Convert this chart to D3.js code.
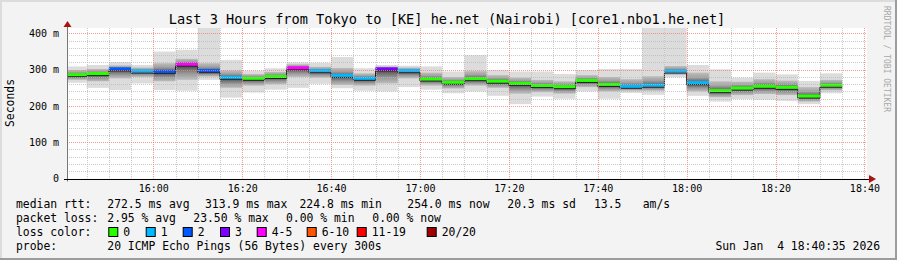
<!DOCTYPE html>
<html>
<head>
<meta charset="utf-8">
<script src="https://cdn.jsdelivr.net/npm/d3@7"></script>
<style>
  body { margin: 0; background: #fff; }
  svg text { font-family: "DejaVu Sans Mono", monospace; fill: #000; }
</style>
</head>
<body>
<div id="chart"></div>
<script>
/* global d3 */

// 5 minute slots (start time of each step)
const slots = ['15:40', '15:45', '15:50', '15:55', '16:00', '16:05', '16:10', '16:15', '16:20', '16:25',
  '16:30', '16:35', '16:40', '16:45', '16:50', '16:55', '17:00', '17:05', '17:10', '17:15',
  '17:20', '17:25', '17:30', '17:35', '17:40', '17:45', '17:50', '17:55', '18:00', '18:05',
  '18:10', '18:15', '18:20', '18:25', '18:30']

// median rtt, ms
const median = [285, 288, 301, 295, 294, 314, 296, 278, 275, 280,
  304, 296, 283, 275, 301, 296, 273, 264, 274, 267,
  261, 255, 252, 269, 258, 253, 256, 295, 263, 241,
  248, 253, 250, 226, 256]

// smoke: fastest / slowest ping and the inner spread
const pingMin = [264, 250, 244, 262, 244, 242, 272, 223, 237, 245,
  250, 261, 249, 242, 240, 252, 245, 235, 240, 228,
  205, 226, 220, 240, 220, 236, 231, 279, 228, 212,
  219, 217, 214, 205, 235]
const pingMax = [309, 313, 321, 313, 350, 355, 430, 327, 297, 304,
  320, 319, 335, 304, 313, 311, 309, 295, 340, 299,
  295, 295, 288, 299, 302, 302, 430, 430, 313, 301,
  278, 292, 287, 269, 290]
const pingLow = [272, 268, 276, 280, 268, 272, 281, 250, 256, 260,
  280, 278, 258, 256, 262, 276, 256, 248, 256, 250,
  234, 238, 234, 252, 240, 242, 242, 286, 240, 224,
  230, 233, 230, 212, 243]
const pingHigh = [299, 302, 312, 306, 318, 330, 318, 298, 288, 294,
  315, 308, 305, 290, 309, 306, 292, 280, 296, 285,
  278, 272, 268, 285, 280, 274, 282, 310, 292, 268,
  267, 274, 270, 252, 272]

// lost pings out of 20
const lost = [0, 0, 2, 1, 2, 5, 2, 1, 0, 0,
  4, 1, 1, 1, 3, 1, 0, 0, 0, 0,
  0, 0, 0, 0, 0, 1, 1, 1, 1, 0,
  0, 0, 0, 0, 0]

const lossLabels = ['0', '1', '2', '3', '4-5', '6-10', '11-19', '20/20']
const lossColors = ['#26ff00', '#00b8ff', '#0059ff', '#7e00ff', '#ff00ff', '#ff5500', '#ff0000', '#a10000']
const yTicks = [0, 100, 200, 300, 400]

// Our canvas
const width = 897,
  height = 260,
  plotLeft = 67,
  plotRight = 867,
  plotTop = 28,
  plotBottom = 178.5

const day = d3.timeParse('%Y-%m-%d %H:%M:%S')
const parseSlot = d3.timeParse('%Y-%m-%d %H:%M')
const start = day('2026-01-04 15:40:35'),
  end = day('2026-01-04 18:40:35')

const x = d3.scaleTime().domain([start, end]).range([plotLeft, plotRight])
const y = d3.scaleLinear().domain([0, 415]).range([plotBottom, plotTop])
const lossColor = d3.scaleThreshold().domain([1, 2, 3, 4, 6, 11, 20]).range(lossColors)

const data = slots.map((s, i) => {
  const t0 = parseSlot('2026-01-04 ' + s)
  return {
    t0: t0,
    t1: d3.timeMinute.offset(t0, 5),
    med: median[i], min: pingMin[i], max: pingMax[i],
    lo: pingLow[i], hi: pingHigh[i], lost: lost[i]
  }
})

let svg = d3.select('#chart')
  .append('svg')
  .attr('width', width)
  .attr('height', height)

// background + 3d frame
svg.append('rect').attr('width', width).attr('height', height).attr('fill', '#f3f3f3')
svg.append('path').attr('d', `M1,${height} V1 H${width}`).attr('stroke', '#dcdcdc').attr('stroke-width', 2).attr('fill', 'none')
svg.append('path').attr('d', `M0,${height - 1} H${width - 1} V0`).attr('stroke', '#9c9c9c').attr('stroke-width', 2).attr('fill', 'none')

svg.append('rect')
  .attr('x', plotLeft).attr('y', plotTop)
  .attr('width', plotRight - plotLeft).attr('height', plotBottom - plotTop)
  .attr('fill', '#fff')

let defs = svg.append('defs')
defs.append('clipPath').attr('id', 'plot')
  .append('rect').attr('x', plotLeft).attr('y', plotTop).attr('width', plotRight - plotLeft).attr('height', plotBottom - plotTop)

let plot = svg.append('g').attr('clip-path', 'url(#plot)')

// smoke
plot.selectAll('rect.outer')
  .data(data)
  .enter()
  .append('rect')
  .attr('class', 'outer')
  .attr('x', d => x(d.t0))
  .attr('width', d => x(d.t1) - x(d.t0))
  .attr('y', d => y(d.max))
  .attr('height', d => y(d.min) - y(d.max))
  .attr('fill', '#dcdcdc')

data.forEach((d, i) => {
  const g = defs.append('linearGradient')
    .attr('id', 'smoke' + i)
    .attr('gradientUnits', 'userSpaceOnUse')
    .attr('x1', 0).attr('x2', 0)
    .attr('y1', y(d.hi)).attr('y2', y(d.lo))
  const mid = (y(d.med) - y(d.hi)) / (y(d.lo) - y(d.hi))
  g.append('stop').attr('offset', 0).attr('stop-color', '#bdbdbd')
  g.append('stop').attr('offset', mid * 0.45).attr('stop-color', '#a2a2a2')
  g.append('stop').attr('offset', mid * 0.85).attr('stop-color', '#6a6a6a')
  g.append('stop').attr('offset', mid).attr('stop-color', '#3a3a3a')
  g.append('stop').attr('offset', mid + (1 - mid) * 0.3).attr('stop-color', '#707070')
  g.append('stop').attr('offset', mid + (1 - mid) * 0.6).attr('stop-color', '#9a9a9a')
  g.append('stop').attr('offset', 1).attr('stop-color', '#bdbdbd')
})

plot.selectAll('rect.inner')
  .data(data)
  .enter()
  .append('rect')
  .attr('class', 'inner')
  .attr('x', d => x(d.t0))
  .attr('width', d => x(d.t1) - x(d.t0))
  .attr('y', d => y(d.hi))
  .attr('height', d => y(d.lo) - y(d.hi))
  .attr('fill', (d, i) => `url(#smoke${i})`)

// grid on top of the smoke
const minorY = d3.range(20, 415, 20).filter(v => v % 100 !== 0)
svg.append('g').selectAll('line')
  .data(minorY)
  .enter()
  .append('line')
  .attr('x1', plotLeft).attr('x2', plotRight)
  .attr('y1', d => Math.round(y(d)) + 0.5).attr('y2', d => Math.round(y(d)) + 0.5)
  .attr('stroke', '#b8b8b8').attr('stroke-opacity', 0.75).attr('stroke-dasharray', '1,1')

const minorX = x.ticks(d3.timeMinute.every(5)).filter(t => t.getMinutes() % 20 !== 0)
svg.append('g').selectAll('line')
  .data(minorX)
  .enter()
  .append('line')
  .attr('x1', d => Math.round(x(d)) + 0.5).attr('x2', d => Math.round(x(d)) + 0.5)
  .attr('y1', plotTop).attr('y2', plotBottom)
  .attr('stroke', '#b8b8b8').attr('stroke-opacity', 0.75).attr('stroke-dasharray', '1,1')

svg.append('g').selectAll('line')
  .data(yTicks.filter(v => v > 0))
  .enter()
  .append('line')
  .attr('x1', plotLeft).attr('x2', plotRight)
  .attr('y1', d => Math.round(y(d)) + 0.5).attr('y2', d => Math.round(y(d)) + 0.5)
  .attr('stroke', '#f08080').attr('stroke-opacity', 0.8).attr('stroke-dasharray', '1,1')

const majorX = x.ticks(d3.timeMinute.every(20))
svg.append('g').selectAll('line')
  .data(majorX)
  .enter()
  .append('line')
  .attr('x1', d => Math.round(x(d)) + 0.5).attr('x2', d => Math.round(x(d)) + 0.5)
  .attr('y1', plotTop).attr('y2', plotBottom)
  .attr('stroke', '#f08080').attr('stroke-opacity', 0.8).attr('stroke-dasharray', '1,1')

// median step line
const stepPts = data.map(d => [d.t0, d.med]).concat([[data[data.length - 1].t1, data[data.length - 1].med]])
plot.append('path')
  .datum(stepPts)
  .attr('fill', 'none')
  .attr('stroke', '#202020')
  .attr('stroke-width', 1)
  .attr('d', d3.line().curve(d3.curveStepAfter).x(p => x(p[0])).y(p => y(p[1]) + 1.5))

plot.selectAll('rect.med')
  .data(data)
  .enter()
  .append('rect')
  .attr('class', 'med')
  .attr('x', d => x(d.t0))
  .attr('width', d => x(d.t1) - x(d.t0))
  .attr('y', d => y(d.med) - 2)
  .attr('height', 3)
  .attr('fill', d => lossColor(d.lost))

// axes
const yAxis = d3.axisLeft(y).tickValues(yTicks).tickSize(0).tickPadding(8)
  .tickFormat(d => d === 0 ? '0' : d + ' m')
let yAxisGroup = svg.append('g')
  .attr('transform', `translate(${plotLeft},0)`)
  .call(yAxis)
yAxisGroup.select('.domain').remove()
yAxisGroup.selectAll('text').style('font-size', '10px').style('font-family', '"DejaVu Sans Mono", monospace')

const xAxis = d3.axisBottom(x).ticks(d3.timeMinute.every(20)).tickSize(0).tickPadding(6)
  .tickFormat(d3.timeFormat('%H:%M'))
let xAxisGroup = svg.append('g')
  .attr('transform', `translate(0,${plotBottom})`)
  .call(xAxis)
xAxisGroup.select('.domain').remove()
xAxisGroup.selectAll('text').style('font-size', '10px').style('font-family', '"DejaVu Sans Mono", monospace')

svg.append('line')
  .attr('x1', plotLeft + 0.5).attr('x2', plotLeft + 0.5).attr('y1', 24).attr('y2', plotBottom + 3)
  .attr('stroke', '#777')
svg.append('line')
  .attr('x1', plotLeft - 3).attr('x2', plotRight + 3).attr('y1', Math.round(plotBottom) + 0.5).attr('y2', Math.round(plotBottom) + 0.5)
  .attr('stroke', '#000')
svg.append('path').attr('d', `M${plotLeft - 3.5},27 L${plotLeft + 0.5},21 L${plotLeft + 4.5},27 Z`).attr('fill', '#a11')
svg.append('path').attr('d', `M${plotRight + 2},${plotBottom - 3.5} L${plotRight + 9},${plotBottom + 0.5} L${plotRight + 2},${plotBottom + 4.5} Z`).attr('fill', '#a11')

// titles
svg.append('text')
  .attr('x', 447).attr('y', 24)
  .attr('text-anchor', 'middle')
  .style('font-size', '13.6px')
  .text('Last 3 Hours from Tokyo to [KE] he.net (Nairobi) [core1.nbo1.he.net]')

svg.append('text')
  .attr('transform', 'translate(14,103) rotate(-90)')
  .attr('text-anchor', 'middle')
  .style('font-size', '11.4px')
  .text('Seconds')

svg.append('text')
  .attr('transform', 'translate(884,59) rotate(90)')
  .attr('text-anchor', 'middle')
  .style('font-size', '8px')
  .style('fill', '#a8a8a8')
  .text('RRDTOOL / TOBI OETIKER')

// legend
const legend = svg.append('g').style('font-size', '11.4px')
const row = (yy, items) => items.forEach(it => {
  legend.append('text').attr('x', it[0]).attr('y', yy).attr('xml:space', 'preserve').text(it[1])
})
row(208, [[16, 'median rtt:'], [107.3, '272.5 ms avg'], [205, '313.9 ms max'], [299.5, '224.8 ms min'],
  [407.3, '254.0 ms now'], [507.3, '20.3 ms sd'], [594, '13.5'], [642.7, 'am/s']])
row(222, [[16, 'packet loss:'], [107.3, '2.95 % avg'], [193.3, '23.50 % max'], [286, '0.00 % min'], [372.3, '0.00 % now']])
row(236, [[16, 'loss color:']])
row(250, [[16, 'probe:'], [107.3, '20 ICMP Echo Pings (56 Bytes) every 300s']])

const boxX = [108.3, 145.7, 182.7, 220, 256.7, 306.7, 356.7, 426.7]
lossLabels.forEach((l, i) => {
  legend.append('rect')
    .attr('x', boxX[i] + 0.5).attr('y', 227.5)
    .attr('width', 9).attr('height', 9)
    .attr('fill', lossColors[i]).attr('stroke', '#000')
  legend.append('text').attr('x', boxX[i] + 15).attr('y', 236).text(l)
})

svg.append('text')
  .attr('x', 880).attr('y', 250)
  .attr('text-anchor', 'end')
  .attr('xml:space', 'preserve')
  .style('font-size', '11.4px')
  .text('Sun Jan  4 18:40:35 2026')
</script>
</body>
</html>
